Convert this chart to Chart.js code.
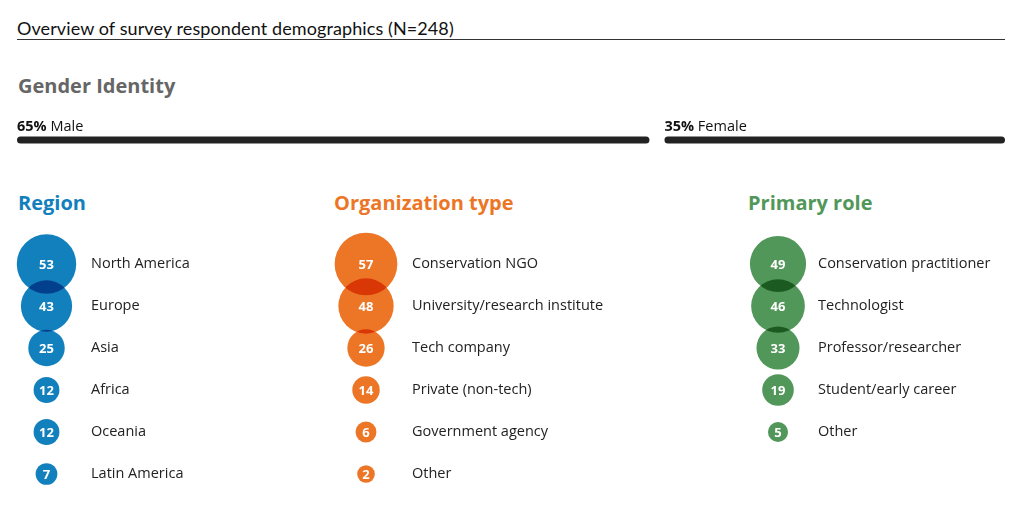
<!DOCTYPE html>
<html>
<head>
<meta charset="utf-8">
<script src="https://cdn.jsdelivr.net/npm/chart.js@4/dist/chart.umd.min.js"></script>
<style>
  body { margin: 0; background: #fff; font-family: "Open Sans", sans-serif; }
  #page { position: relative; width: 1024px; height: 520px; overflow: hidden; }
  .title { position: absolute; left: 17px; top: 16px; width: 988px; height: 23px; line-height: 24px;
           font-family: Lato, sans-serif; font-size: 18px; letter-spacing: 0.1px; color: #111; border-bottom: 1px solid #333; }
  .head { position: absolute; font-weight: 700; font-size: 20px; line-height: 24px; white-space: nowrap; }
  canvas { position: absolute; }
</style>
</head>
<body>
<div id="page">
  <div class="title">Overview of survey respondent demographics (N=248)</div>
  <div class="head" style="left:18px; top:74px; color:#666;">Gender Identity</div>
  <div class="head" style="left:18px; top:191px; color:#1380be;">Region</div>
  <div class="head" style="left:334px; top:191px; color:#ec7626;">Organization type</div>
  <div class="head" style="left:748px; top:191px; color:#52975a;">Primary role</div>
  <canvas id="gender" width="1024" height="60" style="left:0; top:100px;"></canvas>
  <canvas id="region"></canvas>
  <canvas id="org"></canvas>
  <canvas id="role"></canvas>
</div>
<script>
// dane
var genderLabels = ['Male', 'Female'];
var genderValues = [65, 35];

var regionLabels = ['North America', 'Europe', 'Asia', 'Africa', 'Oceania', 'Latin America'];
var regionValues = [53, 43, 25, 12, 12, 7];

var orgLabels = ['Conservation NGO', 'University/research institute', 'Tech company', 'Private (non-tech)', 'Government agency', 'Other'];
var orgValues = [57, 48, 26, 14, 6, 2];

var roleLabels = ['Conservation practitioner', 'Technologist', 'Professor/researcher', 'Student/early career', 'Other'];
var roleValues = [49, 46, 33, 19, 5];

// promień kółka z wartości
function radius(v) { return 8 + 0.41 * v; }

// --- płeć: jeden pasek, dwa odcinki z przerwą 15px ---
// każdy odcinek jest zwężany o część przerwy proporcjonalną do swojego udziału
var gapTotal = 15;
var barH = 7;
function inset(v) { return v / 100 * gapTotal; }

new Chart(document.getElementById('gender'), {
    type: 'bar',
    data: {
        labels: ['Gender'],
        datasets: genderValues.map(function (v, i) {
            return {
                label: genderLabels[i],
                data: [v],
                backgroundColor: '#222',
                barThickness: barH + 2 * inset(v),
                inflateAmount: -inset(v),
                borderSkipped: false,
                borderRadius: { topLeft: 3.5, topRight: 3.5, bottomLeft: 3.5, bottomRight: 3.5 }
            };
        })
    },
    options: {
        responsive: false,
        animation: false,
        indexAxis: 'y',
        layout: {
            padding: {
                left: 17 - inset(genderValues[0]),
                right: 19 - inset(genderValues[genderValues.length - 1]),
                top: 20,
                bottom: 0
            }
        },
        scales: {
            x: { stacked: true, min: 0, max: 100, display: false },
            y: { stacked: true, display: false }
        },
        plugins: { legend: { display: false }, tooltip: { enabled: false } }
    },
    plugins: [{
        id: 'genderText',
        afterDatasetsDraw: function (chart) {
            var ctx = chart.ctx;
            ctx.save();
            ctx.fillStyle = '#111';
            ctx.textBaseline = 'middle';
            ctx.textAlign = 'left';
            chart.data.datasets.forEach(function (ds, i) {
                var el = chart.getDatasetMeta(i).data[0];
                var x = Math.min(el.x, el.base) + inset(genderValues[i]);
                var y = el.y - 13;
                ctx.font = 'bold 14.5px "Open Sans"';
                var pct = genderValues[i] + '%';
                ctx.fillText(pct, x, y);
                var w = ctx.measureText(pct).width;
                ctx.font = '14.5px "Open Sans"';
                ctx.fillText(' ' + genderLabels[i], x + w, y);
            });
            ctx.restore();
        }
    }]
});

// --- kolumny z kółkami ---
var rowH = 42;
var axisW = 250;

function bubbleColumn(id, labels, values, color, left, labelPad) {
    var canvas = document.getElementById(id);
    var maxR = radius(Math.max.apply(null, values));
    var padL = 10, padT = 12, padB = 12;
    canvas.width = padL + 2 * maxR + axisW;
    canvas.height = padT + padB + labels.length * rowH;
    canvas.style.left = (left - padL) + 'px';
    canvas.style.top = (243 - padT) + 'px';

    new Chart(canvas, {
        type: 'bubble',
        data: {
            labels: labels,
            datasets: [{
                data: values.map(function (v, i) {
                    return { x: 0, y: labels[i], r: radius(v) };
                }),
                backgroundColor: color,
                borderWidth: 0,
                hoverBorderWidth: 0,
                hoverRadius: 0,
                clip: false
            }]
        },
        options: {
            responsive: false,
            animation: false,
            layout: { autoPadding: false, padding: { left: padL, right: 0, top: padT, bottom: padB } },
            scales: {
                x: { type: 'linear', min: -1, max: 1, display: false },
                y: {
                    type: 'category',
                    position: 'right',
                    offset: true,
                    grid: { display: false, drawTicks: false },
                    border: { display: false },
                    ticks: {
                        padding: labelPad,
                        crossAlign: 'near',
                        color: '#222',
                        font: { family: 'Open Sans', size: 14.5 }
                    },
                    afterFit: function (scale) {
                        scale.width = axisW;
                        scale.paddingTop = 0;
                        scale.paddingBottom = 0;
                    }
                }
            },
            plugins: { legend: { display: false }, tooltip: { enabled: false } }
        },
        plugins: [{
            id: 'multiplyAndValues',
            // nakładające się kółka ciemnieją jak przy mieszaniu "multiply"
            beforeDatasetsDraw: function (chart) {
                chart.ctx.save();
                chart.ctx.globalCompositeOperation = 'multiply';
            },
            afterDatasetsDraw: function (chart) {
                var ctx = chart.ctx;
                ctx.restore();
                ctx.save();
                ctx.fillStyle = '#fff';
                ctx.font = 'bold 13px "Open Sans"';
                ctx.textAlign = 'center';
                ctx.textBaseline = 'middle';
                chart.getDatasetMeta(0).data.forEach(function (el, i) {
                    ctx.fillText(values[i], el.x, el.y + 1);
                });
                ctx.restore();
            }
        }]
    });
}

bubbleColumn('region', regionLabels, regionValues, '#1380be', 17.3, 15);
bubbleColumn('org', orgLabels, orgValues, '#ec7626', 334.6, 15);
bubbleColumn('role', roleLabels, roleValues, '#52975a', 750, 12);
</script>
</body>
</html>
